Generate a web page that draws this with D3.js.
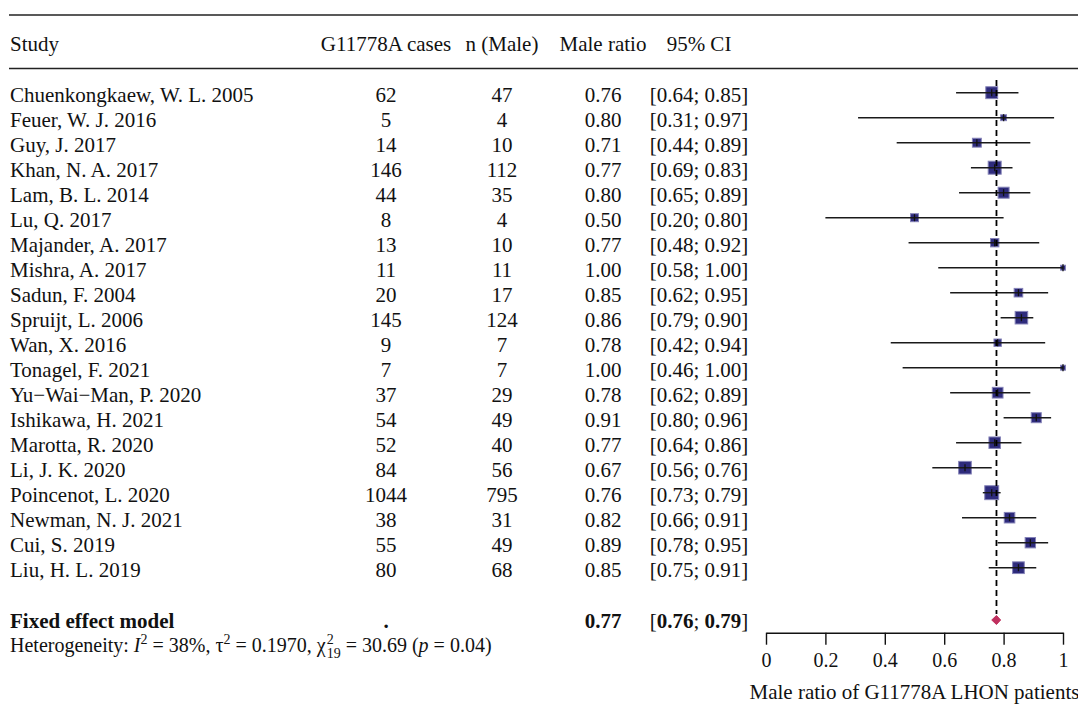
<!DOCTYPE html>
<html>
<head>
<meta charset="utf-8">
<script src="https://cdn.jsdelivr.net/npm/d3@7"></script>
<style>
  body { margin: 0; background: #fff; }
  svg text { font-family: "Liberation Serif", "Times New Roman", serif; fill: #111; }
</style>
</head>
<body>
<script>
// study rows, top to bottom
const studies = ["Chuenkongkaew, W. L. 2005", "Feuer, W. J. 2016", "Guy, J. 2017", "Khan, N. A. 2017",
  "Lam, B. L. 2014", "Lu, Q. 2017", "Majander, A. 2017", "Mishra, A. 2017", "Sadun, F. 2004",
  "Spruijt, L. 2006", "Wan, X. 2016", "Tonagel, F. 2021", "Yu\u2212Wai\u2212Man, P. 2020", "Ishikawa, H. 2021",
  "Marotta, R. 2020", "Li, J. K. 2020", "Poincenot, L. 2020", "Newman, N. J. 2021", "Cui, S. 2019", "Liu, H. L. 2019"];
const cases = [62, 5, 14, 146, 44, 8, 13, 11, 20, 145, 9, 7, 37, 54, 52, 84, 1044, 38, 55, 80];
const males = [47, 4, 10, 112, 35, 4, 10, 11, 17, 124, 7, 7, 29, 49, 40, 56, 795, 31, 49, 68];
const ratio = [0.76, 0.80, 0.71, 0.77, 0.80, 0.50, 0.77, 1.00, 0.85, 0.86, 0.78, 1.00, 0.78, 0.91, 0.77, 0.67, 0.76, 0.82, 0.89, 0.85];
const lower = [0.64, 0.31, 0.44, 0.69, 0.65, 0.20, 0.48, 0.58, 0.62, 0.79, 0.42, 0.46, 0.62, 0.80, 0.64, 0.56, 0.73, 0.66, 0.78, 0.75];
const upper = [0.85, 0.97, 0.89, 0.83, 0.89, 0.80, 0.92, 1.00, 0.95, 0.90, 0.94, 1.00, 0.89, 0.96, 0.86, 0.76, 0.79, 0.91, 0.95, 0.91];
// approx. weights (%) judged from square sizes
const weight = [7.0, 1.4, 3.7, 8.5, 5.9, 2.9, 3.2, 0.9, 3.4, 7.9, 2.4, 0.9, 5.6, 4.8, 6.5, 8.0, 9.9, 5.4, 5.2, 6.8];

const pooled = { est: 0.776, lo: 0.76, hi: 0.79, label: "0.77", ciLo: "0.76", ciHi: "0.79" };
const headers = ["Study", "G11778A cases", "n (Male)", "Male ratio", "95% CI"];
const xTicks = [0, 0.2, 0.4, 0.6, 0.8, 1];

const width = 1078, height = 706;
const fmt = d3.format(".2f");

const rows = studies.map((s, i) => ({
  study: s, cases: cases[i], males: males[i], ratio: ratio[i],
  lo: lower[i], hi: upper[i], w: weight[i]
}));

const svg = d3.select("body").append("svg")
  .attr("width", width).attr("height", height)
  .style("font-size", "21px");

const x = d3.scaleLinear().domain([0, 1]).range([766, 1063]);
const y = d3.scaleLinear().domain([0, studies.length - 1]).range([92.7, 567.7]);
const size = d3.scaleSqrt().domain([0, 10]).range([0, 13]);

const col = { study: 10, cases: 386, males: 502, ratio: 603, ci: 699 };
const yFixed = 620;
const tdy = 9; // text baseline below row centre

/*** rules ***/
svg.append("line").attr("x1", 9).attr("x2", width).attr("y1", 15).attr("y2", 15)
  .attr("stroke", "#222").attr("stroke-width", 1.6);
svg.append("line").attr("x1", 9).attr("x2", width).attr("y1", 68.5).attr("y2", 68.5)
  .attr("stroke", "#222").attr("stroke-width", 1.6);

/*** header ***/
const hx = [col.study, col.cases, col.males, col.ratio, col.ci];
svg.append("g").selectAll("text").data(headers).join("text")
  .attr("x", (d, i) => hx[i]).attr("y", 43 + tdy - 1)
  .attr("text-anchor", (d, i) => i === 0 ? "start" : "middle")
  .text(d => d);

/*** table ***/
const tr = svg.append("g").selectAll("g").data(rows).join("g")
  .attr("transform", (d, i) => `translate(0,${y(i)})`);
tr.append("text").attr("x", col.study).attr("y", tdy).text(d => d.study);
tr.append("text").attr("x", col.cases).attr("y", tdy).attr("text-anchor", "middle").text(d => d.cases);
tr.append("text").attr("x", col.males).attr("y", tdy).attr("text-anchor", "middle").text(d => d.males);
tr.append("text").attr("x", col.ratio).attr("y", tdy).attr("text-anchor", "middle").text(d => fmt(d.ratio));
tr.append("text").attr("x", col.ci).attr("y", tdy).attr("text-anchor", "middle")
  .text(d => `[${fmt(d.lo)}; ${fmt(d.hi)}]`);

/*** forest marks ***/
svg.append("line")
  .attr("x1", x(pooled.est)).attr("x2", x(pooled.est))
  .attr("y1", 80).attr("y2", 614)
  .attr("stroke", "#000").attr("stroke-width", 1.8)
  .attr("stroke-dasharray", "6,4");

tr.append("rect")
  .attr("x", d => x(d.ratio) - size(d.w) / 2 - 0.5)
  .attr("y", d => -size(d.w) / 2 - 0.5)
  .attr("width", d => size(d.w) + 1).attr("height", d => size(d.w) + 1)
  .attr("fill", "#2e2b7c").attr("stroke", "#8583b8").attr("stroke-width", 1);
tr.append("line")
  .attr("x1", d => x(d.lo)).attr("x2", d => x(d.hi))
  .attr("stroke", "#1a1a1a").attr("stroke-width", 1.4);
tr.append("line")
  .attr("x1", d => x(d.ratio)).attr("x2", d => x(d.ratio))
  .attr("y1", -3.5).attr("y2", 3.5)
  .attr("stroke", "#111").attr("stroke-width", 1.3);

/*** pooled row ***/
const fr = svg.append("g").attr("transform", `translate(0,${yFixed})`);
fr.append("text").attr("x", col.study).attr("y", tdy - 1).attr("font-weight", "bold").text("Fixed effect model");
fr.append("text").attr("x", col.cases).attr("y", tdy - 1).attr("text-anchor", "middle").attr("font-weight", "bold").text(".");
fr.append("text").attr("x", col.ratio).attr("y", tdy - 1).attr("text-anchor", "middle").attr("font-weight", "bold").text(pooled.label);
const ci = fr.append("text").attr("x", col.ci).attr("y", tdy - 1).attr("text-anchor", "middle");
ci.append("tspan").text("[");
ci.append("tspan").attr("font-weight", "bold").text(pooled.ciLo);
ci.append("tspan").text("; ");
ci.append("tspan").attr("font-weight", "bold").text(pooled.ciHi);
ci.append("tspan").text("]");

fr.append("path")
  .attr("d", `M${x(pooled.lo)},0 L${x(pooled.est)},-4.5 L${x(pooled.hi)},0 L${x(pooled.est)},4.5 Z`)
  .attr("fill", "#c0305f").attr("stroke", "#c0305f").attr("stroke-width", 1);

/*** heterogeneity ***/
const het = svg.append("text").attr("x", col.study).attr("y", 652).style("font-size", "20px");
het.append("tspan").text("Heterogeneity: ");
het.append("tspan").attr("font-style", "italic").text("I");
het.append("tspan").attr("font-size", "14px").attr("dy", -8).text("2");
het.append("tspan").attr("dy", 8).text(" = 38%, \u03c4");
het.append("tspan").attr("font-size", "14px").attr("dy", -8).text("2");
het.append("tspan").attr("dy", 8).text(" = 0.1970, \u03c7");
het.append("tspan").attr("font-size", "14px").attr("dy", -8).attr("dx", 1).text("2");
het.append("tspan").attr("font-size", "14px").attr("dy", 14).attr("dx", -7).text("19");
het.append("tspan").attr("dy", -6).text(" = 30.69 (");
het.append("tspan").attr("font-style", "italic").text("p");
het.append("tspan").text(" = 0.04)");

/*** axis ***/
const axis = svg.append("g").attr("transform", "translate(0,632.7)")
  .call(d3.axisBottom(x).tickValues(xTicks).tickFormat(d => d3.format("~g")(d))
    .tickSize(12).tickPadding(8).tickSizeOuter(0));
axis.selectAll("path, line").attr("stroke", "#111").attr("stroke-width", 1.4);
axis.selectAll("text").style("font-size", "20px").style("font-family", "Liberation Serif, serif").attr("fill", "#111");

svg.append("text").attr("x", (x(0) + x(1)) / 2).attr("y", 699)
  .attr("text-anchor", "middle").text("Male ratio of G11778A LHON patients");
</script>
</body>
</html>
